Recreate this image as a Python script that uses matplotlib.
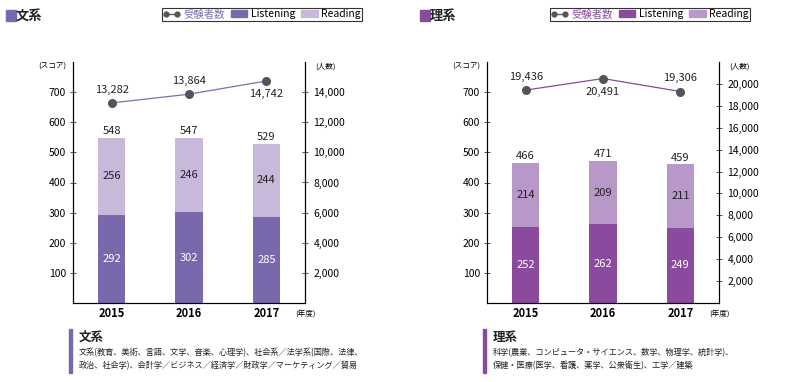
import numpy as np
import matplotlib.pyplot as plt
from matplotlib.lines import Line2D
from matplotlib.patches import Patch, Rectangle

plt.rcParams['font.family'] = ['Noto Sans CJK JP', 'DejaVu Sans']

years = ['2015', '2016', '2017']

# 文系
bun_listening = [292, 302, 285]
bun_reading = [256, 246, 244]
bun_total = [548, 547, 529]
bun_people = [13282, 13864, 14742]

# 理系
ri_listening = [252, 262, 249]
ri_reading = [214, 209, 211]
ri_total = [466, 471, 459]
ri_people = [19436, 20491, 19306]

bun_desc = ['文系(教育、美術、言語、文学、音楽、心理学)、社会系／法学系(国際、法律、',
            '政治、社会学)、会計学／ビジネス／経済学／財政学／マーケティング／貿易']
ri_desc = ['科学(農業、コンピュータ・サイエンス、数学、物理学、統計学)、',
           '保健・医療(医学、看護、薬学、公衆衛生)、工学／建築']

W, H = 789, 382
fig = plt.figure(figsize=(W/100, H/100), dpi=100)


def panel(x0, title, desc, lis, rea, tot, ppl, c_lis, c_rea, c_line, ymax2, label_pos, leg_x0):
    ax = fig.add_axes([x0/W, 1-303/H, 232/W, 241/H])
    x = np.arange(len(years))
    w = 0.35
    ax.bar(x, lis, w, color=c_lis, zorder=2)
    ax.bar(x, rea, w, bottom=lis, color=c_rea, zorder=2)
    for i in range(len(x)):
        ax.text(x[i], lis[i]/2, str(lis[i]), ha='center', va='center', color='white', fontsize=8)
        ax.text(x[i], lis[i] + rea[i]/2, str(rea[i]), ha='center', va='center', color='#222222', fontsize=8)
        ax.text(x[i], tot[i] + 6, str(tot[i]), ha='center', va='bottom', color='#222222', fontsize=8)
    ax.set_xlim(-0.5, 2.5)
    ax.set_ylim(0, 800)
    ax.set_yticks([100, 200, 300, 400, 500, 600, 700])
    ax.set_xticks(x)
    ax.set_xticklabels(years, fontweight='bold', fontsize=8)
    ax.tick_params(axis='x', length=0, pad=3)
    ax.tick_params(axis='y', labelsize=7.5, length=4, width=0.6, direction='inout',
                   color='#333333', pad=3)
    ax.spines['top'].set_visible(False)
    for s in ['left', 'right', 'bottom']:
        ax.spines[s].set_linewidth(0.8)

    ax2 = ax.twinx()
    ax2.plot(x, ppl, color=c_line, lw=0.9, marker='o', markersize=5.5,
             markerfacecolor='#555555', markeredgecolor='#555555', zorder=3)
    ax2.set_ylim(0, ymax2)
    ax2.set_yticks(np.arange(2000, ymax2 - 1000, 2000))
    ax2.set_yticklabels(['{:,}'.format(v) for v in np.arange(2000, ymax2 - 1000, 2000)])
    ax2.tick_params(axis='y', labelsize=7.5, length=4, width=0.6, direction='inout',
                    color='#333333', pad=4)
    ax2.spines['top'].set_visible(False)
    for i in range(len(x)):
        off = ymax2 * 0.035
        if label_pos[i] == 'up':
            ax2.text(x[i], ppl[i] + off, '{:,}'.format(ppl[i]), ha='center', va='bottom', fontsize=8, color='#222222')
        else:
            ax2.text(x[i], ppl[i] - off, '{:,}'.format(ppl[i]), ha='center', va='top', fontsize=8, color='#222222')

    fig.text((x0 - 7)/W, 1-67/H, '(スコア)', ha='right', va='center', fontsize=5.5)
    fig.text((x0 + 242)/W, 1-67/H, '(人数)', ha='left', va='center', fontsize=5.5)
    fig.text((x0 + 222)/W, 1-315/H, '(年度)', ha='left', va='center', fontsize=5.5)

    # title
    fig.patches.append(Rectangle(((x0 - 67)/W, 1-21/H), 10/W, 11/H, transform=fig.transFigure,
                                 color=c_lis))
    fig.text((x0 - 57)/W, 1-16/H, title, ha='left', va='center', fontsize=9.5, fontweight='bold', color='#222222')

    # legend
    handles = [Line2D([0], [0], color='#555555', lw=0.9, marker='o', markersize=3.5),
               Patch(color=c_lis), Patch(color=c_rea)]
    leg = fig.legend(handles, ['受験者数', 'Listening', 'Reading'], ncol=3,
                     loc='upper left', bbox_to_anchor=(leg_x0/W, 1-8/H),
                     fontsize=7.5, frameon=True, fancybox=False, edgecolor='black',
                     handlelength=1.6, handleheight=0.6, handletextpad=0.3,
                     columnspacing=0.6, borderpad=0.12, borderaxespad=0, numpoints=2)
    leg.get_frame().set_linewidth(0.8)
    leg.get_texts()[0].set_color(c_line)

    # description
    fig.patches.append(Rectangle(((x0 - 4)/W, 1-373/H), 3/W, 44/H, transform=fig.transFigure,
                                 color=c_lis))
    fig.text((x0 + 6)/W, 1-337/H, title, ha='left', va='center', fontsize=9, fontweight='bold', color='#222222')
    fig.text((x0 + 6)/W, 1-353/H, desc[0], ha='left', va='center', fontsize=5.9, color='#222222')
    fig.text((x0 + 6)/W, 1-366/H, desc[1], ha='left', va='center', fontsize=5.9, color='#222222')


panel(73, '文系', bun_desc, bun_listening, bun_reading, bun_total, bun_people,
      '#7a68ad', '#c8b9da', '#7a70b0', 16000, ['up', 'up', 'down'], 162)
panel(487, '理系', ri_desc, ri_listening, ri_reading, ri_total, ri_people,
      '#8a4a9e', '#b897c9', '#8a4a9e', 22000, ['up', 'down', 'up'], 550)

fig.savefig('out.png', dpi=100)
